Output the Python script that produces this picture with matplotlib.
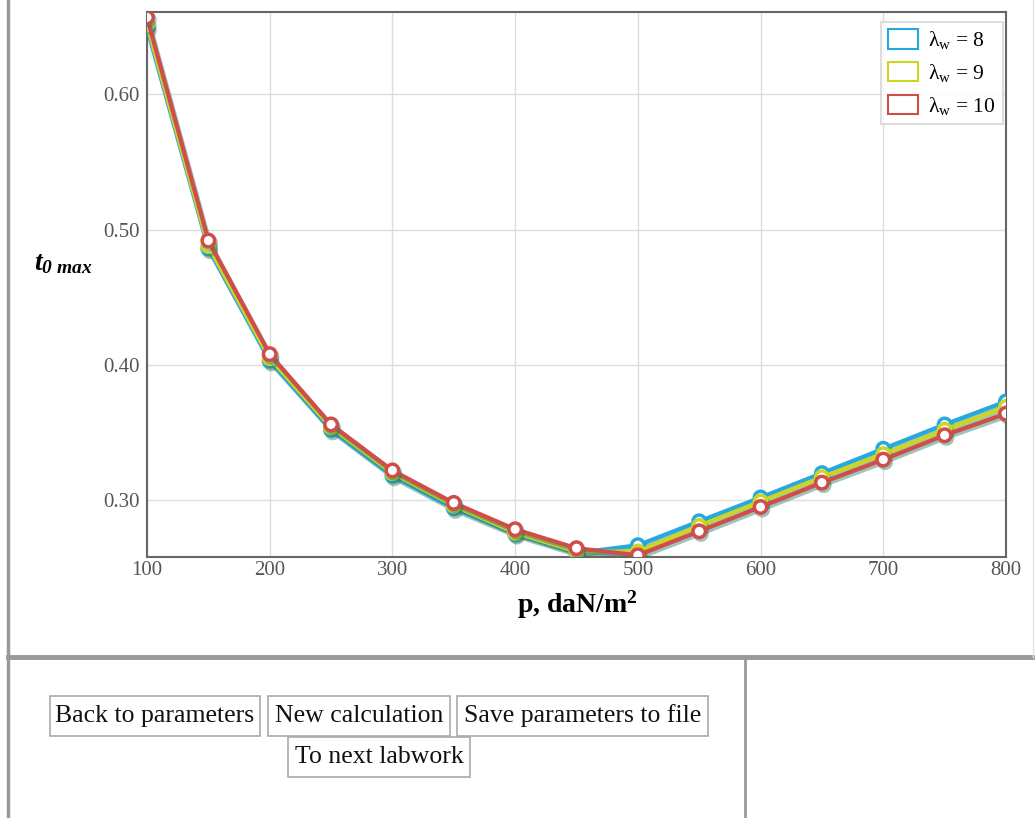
#!/usr/bin/env python3
"""Max thickness t0 vs load p for three aspect ratios (lab results page)."""

import matplotlib
matplotlib.use('Agg')
import matplotlib.pyplot as plt
import matplotlib.patheffects as pe
from matplotlib.patches import Rectangle
from matplotlib.lines import Line2D

plt.rcParams['font.family'] = ['Liberation Serif', 'DejaVu Serif']
plt.rcParams['mathtext.fontset'] = 'custom'
plt.rcParams['mathtext.rm'] = 'Liberation Serif'
plt.rcParams['mathtext.it'] = 'Liberation Serif:italic'
plt.rcParams['mathtext.bf'] = 'Liberation Serif:bold'
plt.rcParams['mathtext.bfit'] = 'Liberation Serif:italic:bold'

# load p, daN/m^2
p = [100, 150, 200, 250, 300, 350, 400, 450, 500, 550, 600, 650, 700, 750, 800]

# t0 max for lambda_w = 8, 9, 10
t_l8 = [0.649, 0.486, 0.403, 0.352, 0.318, 0.294, 0.275, 0.261, 0.2667,
        0.2844, 0.302, 0.320, 0.338, 0.356, 0.373]
t_l9 = [0.652, 0.488, 0.405, 0.354, 0.320, 0.296, 0.276, 0.262, 0.262,
        0.281, 0.299, 0.317, 0.334, 0.352, 0.369]
t_l10 = [0.657, 0.492, 0.408, 0.356, 0.322, 0.298, 0.2785, 0.2645, 0.2593,
         0.277, 0.295, 0.313, 0.330, 0.348, 0.364]

series = [
    (t_l8, '#27a9df', r'$\mathrm{\lambda_w}$ = 8'),
    (t_l9, '#cbd624', r'$\mathrm{\lambda_w}$ = 9'),
    (t_l10, '#cf4d4a', r'$\mathrm{\lambda_w}$ = 10'),
]

buttons = ['Back to parameters', 'New calculation', 'Save parameters to file',
           'To next labwork']

W, H = 1035, 818
fig = plt.figure(figsize=(W / 100, H / 100), dpi=100)


def fx(x):
    return x / W


def fy(y):
    return 1 - y / H


ax = fig.add_axes([fx(147), fy(557), fx(1006) - fx(147), fy(12) - fy(557)])

# greenish drop shadow under the lines, like the original web chart
shadow = [pe.SimpleLineShadow(offset=(1.2, -1.8), shadow_color='#2b7a5e', alpha=0.45),
          pe.Normal()]
handles = []
for vals, color, label in series:
    ax.plot(p, vals, color=color, lw=3, marker='o', ms=9, mfc='white',
            mec=color, mew=2.5, path_effects=shadow, zorder=3)
    handles.append(Rectangle((0, 0), 1, 1, facecolor='white', edgecolor=color, lw=1.5))

ax.set_xlim(100, 800)
ax.set_ylim(0.258, 0.661)
ax.set_xticks(range(100, 801, 100))
ax.set_yticks([0.30, 0.40, 0.50, 0.60])
ax.set_yticklabels(['0.30', '0.40', '0.50', '0.60'])
ax.tick_params(length=0, labelsize=15, labelcolor='#555555')
ax.tick_params(axis='y', pad=5)
ax.tick_params(axis='x', pad=3)
ax.grid(True, color='#dddddd', lw=1)
ax.set_axisbelow(True)
for s in ax.spines.values():
    s.set_color('#666666')
    s.set_linewidth(1.5)

leg = ax.legend(handles, [s[2] for s in series], loc='upper right', fontsize=15.5,
                frameon=True, fancybox=False, edgecolor='#cccccc',
                handlelength=1.4, handleheight=1.0, borderpad=0.35,
                labelspacing=0.5, handletextpad=0.45, borderaxespad=0,
                bbox_to_anchor=(0.9965, 0.982))
leg.get_frame().set_linewidth(1.2)

fig.text(fx(577), fy(605), r'p, daN/m$^{\mathbf{2}}$', ha='center', va='center',
         fontsize=20, fontweight='bold')
fig.text(fx(63), fy(264), r'$\mathbfit{t}_{\mathbfit{0\ max}}$', ha='center', va='center',
         fontsize=20)

# page borders
fig.add_artist(Line2D([fx(8), fx(8)], [fy(0), fy(818)], color='#999999', lw=2.5))
fig.add_artist(Line2D([fx(8), fx(1033)], [fy(657), fy(657)], color='#999999', lw=3.5))
fig.add_artist(Line2D([fx(1033), fx(1033)], [fy(0), fy(657)], color='#e4e4e4', lw=1))
fig.add_artist(Line2D([fx(745), fx(745)], [fy(659), fy(818)], color='#999999', lw=2))

# buttons
btn_boxes = [(50, 696, 210), (268, 696, 182), (457, 696, 251), (288, 737, 182)]
for label, (bx, by, bw) in zip(buttons, btn_boxes):
    bh = 40
    fig.add_artist(Rectangle((fx(bx), fy(by + bh)), bw / W, bh / H,
                             facecolor='white', edgecolor='#aaaaaa', lw=1.2,
                             transform=fig.transFigure))
    fig.text(fx(bx + bw / 2), fy(by + bh / 2), label, ha='center', va='center',
             fontsize=18.5, color='#111111')

fig.savefig('out.png', dpi=100)
